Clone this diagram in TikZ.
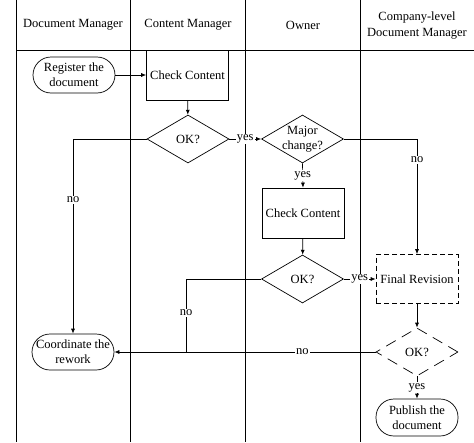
\documentclass[tikz,border=0pt]{standalone}
\usepackage{fontspec}
\setmainfont{Liberation Serif}
\usetikzlibrary{shapes.geometric,arrows.meta}
\begin{document}
\begin{tikzpicture}[x=1pt,y=-1pt,
  font=\fontsize{12.5}{15}\selectfont,
  line width=0.7pt,
  box/.style={draw, minimum width=82pt, minimum height=50pt, inner sep=0pt, align=center},
  term/.style={draw, rounded corners=18pt, minimum width=82pt, minimum height=36pt, inner sep=0pt, align=center},
  dec/.style={draw, diamond, minimum width=82pt, minimum height=48pt, inner sep=0pt, align=center},
  dashbox/.style={dash pattern=on 5pt off 3pt},
  dashdec/.style={dash pattern=on 11pt off 7pt},
  arr/.style={-{Latex[length=5pt,width=4pt]}},
  lbl/.style={fill=white, inner sep=1pt},
  lane/.style={line width=0.7pt}]
\useasboundingbox[fill=white] (0,0) rectangle (474,442);
% lanes
\draw[lane] (16,0) -- (16,442);
\draw[lane] (130.5,0) -- (130.5,442);
\draw[lane] (245.5,0) -- (245.5,442);
\draw[lane] (360,0) -- (360,442);
\draw[lane] (16,50) -- (474,50);
% headers
\node (h1) at (73,25) {Document Manager};
\node (h2) at (188,25) {Content Manager};
\node (h3) at (303,25) {Owner};
\node[align=center, font=\fontsize{12.5}{16}\selectfont] (h4) at (417,26) {Company-level\\Document Manager};
% nodes
\node[term] (reg) at (74,75) {Register the\\document};
\node[box] (cc1) at (187.5,75) {Check Content};
\node[dec] (ok1) at (188,139) {};
\node at (ok1) {OK?};
\node[dec] (maj) at (302.5,139) {};
\node[align=center, inner sep=0pt] (majt) at (302.5,139) {Major\\change?};
\node[box] (cc2) at (303,213) {Check Content};
\node[dec] (ok2) at (302.5,279) {};
\node at (ok2) {OK?};
\node[box, dashbox, minimum height=49pt] (fr) at (417,279) {Final Revision};
\node[dec, dashdec] (ok3) at (417,352) {};
\node at (ok3) {OK?};
\node[term] (crw) at (73,352) {Coordinate the\\rework};
\node[term, minimum height=37pt] (pub) at (417,417.5) {Publish the\\document};
\coordinate (j) at (186,352);
% connectors
\draw[arr] (reg) -- (cc1);
\draw[arr] (cc1) -- (ok1);
\draw[arr] (ok1) -- node[lbl]{yes} (maj);
\draw[arr] (maj.east) -| node[lbl, pos=0.59]{no} (fr.north);
\draw[arr] (maj.south) -- node[lbl]{yes} (cc2.north);
\draw[arr] (cc2) -- (ok2);
\draw[arr] (ok2) -- node[lbl]{yes} (fr);
\draw[arr] (fr) -- (ok3);
\draw[arr] (ok3.south) -- node[lbl]{yes} (pub.north);
\draw[arr] (ok3.west) -- node[lbl, pos=0.28]{no} (crw.east);
\draw (ok2.west) -| node[lbl, pos=0.73]{no} (j);
\draw[arr] (ok1.west) -| node[lbl, pos=0.656]{no} (crw.north);
\end{tikzpicture}
\end{document}
